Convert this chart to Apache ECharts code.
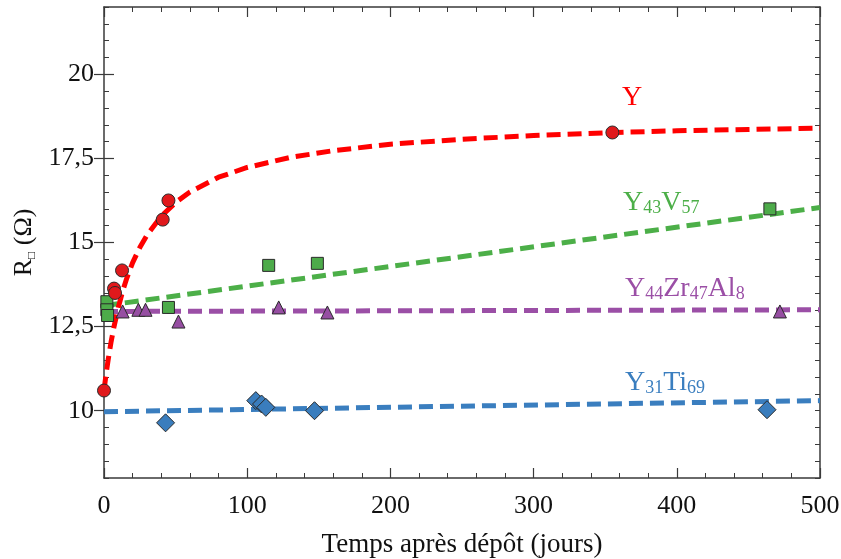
<!DOCTYPE html>
<html>
<head>
<meta charset="utf-8">
<script src="https://cdn.jsdelivr.net/npm/echarts@6/dist/echarts.min.js"></script>
<style>
html,body{margin:0;padding:0;background:#fff;}
#chart{width:841px;height:559px;}
</style>
</head>
<body>
<div id="chart"></div>
<script>
// ---- data ----
var xTicks = [0, 100, 200, 300, 400, 500];
var yTickLabels = [10, 12.5, 15, 17.5, 20];

// Y (red circles)
var yPts = [[0, 10.6], [7, 13.63], [7.7, 13.5], [12.6, 14.17], [41, 15.68], [45, 16.25], [355, 18.27]];
// Y fit curve
var yFitT = [0, 1, 2, 3, 5, 7, 10, 13, 16, 20, 25, 30, 40, 50, 60, 80, 100, 130, 160, 200, 250, 300, 350, 400, 450, 500];
var yFitV = [10.6, 10.94, 11.25, 11.54, 12.06, 12.5, 13.07, 13.55, 13.95, 14.4, 14.85, 15.22, 15.78, 16.19, 16.5, 16.94, 17.23, 17.53, 17.73, 17.92, 18.07, 18.18, 18.26, 18.32, 18.36, 18.4];

// Y43V57 (green squares)
var vPts = [[2, 13.24], [2, 13.0], [2.5, 12.83], [45, 13.07], [115, 14.32], [149, 14.38], [465, 16.0]];
var vFit = [[0, 13.12], [500, 16.04]];

// Y44Zr47Al8 (purple triangles)
var zPts = [[13, 12.95], [24, 13.0], [29, 13.0], [52, 12.65], [122, 13.07], [156, 12.92], [472, 12.95]];
var zFit = [[0, 12.95], [500, 13.0]];

// Y31Ti69 (blue diamonds)
var tPts = [[43, 9.64], [106, 10.3], [110, 10.2], [113, 10.1], [147, 10.0], [463, 10.03]];
var tFit = [[0, 9.97], [500, 10.3]];

var FONT = "'Liberation Serif', 'DejaVu Serif', serif";
var AX = '#3a3a3a';

function fmt(v) { return String(v).replace('.', ','); }

var chart = echarts.init(document.getElementById('chart'), null, {renderer: 'canvas'});

var yFit = yFitT.map(function (t, i) { return [t, yFitV[i]]; });

function dashLine(name, data, color) {
  return {
    name: name, type: 'line', data: data, showSymbol: false, symbol: 'none',
    smooth: false, z: 2, silent: true,
    lineStyle: {color: color, width: 5, type: [14, 7], cap: 'butt'}
  };
}
function pts(name, data, symbol, size, color) {
  return {
    name: name, type: 'scatter', data: data, symbol: symbol, symbolSize: size, z: 3,
    itemStyle: {color: color, borderColor: '#2a2a2a', borderWidth: 1, opacity: 1}
  };
}

function xAx(pos, show) {
  return {
    type: 'value', position: pos, min: 0, max: 500, interval: 100,
    axisLine: {show: true, onZero: false, lineStyle: {color: AX, width: 1.5}},
    axisTick: {show: true, inside: true, length: 10, lineStyle: {color: AX, width: 1.2}},
    minorTick: {show: true, splitNumber: 5, length: 5, lineStyle: {color: AX, width: 1}},
    axisLabel: {show: show, margin: 15, color: '#111', fontFamily: FONT, fontSize: 26},
    splitLine: {show: false},
    name: show ? 'Temps après dépôt (jours)' : '',
    nameLocation: 'middle', nameGap: 53,
    nameTextStyle: {color: '#111', fontFamily: FONT, fontSize: 27}
  };
}
function yMinor(pos) {
  return {
    type: 'value', position: pos, min: 8, max: 22, interval: 0.5,
    axisLine: {show: true, onZero: false, lineStyle: {color: AX, width: 1.5}},
    axisTick: {show: true, inside: true, length: 5, lineStyle: {color: AX, width: 1}},
    axisLabel: {show: false},
    splitLine: {show: false}
  };
}
function yMajor(pos, show) {
  var o = {
    type: 'value', position: pos, min: 8, max: 22,
    axisLine: {show: false},
    axisTick: {show: true, inside: true, length: 10, customValues: yTickLabels, lineStyle: {color: AX, width: 1.2}},
    axisLabel: {show: show, margin: 10, customValues: yTickLabels, color: '#111', fontFamily: FONT, fontSize: 26,
      formatter: function (v) { return fmt(v); }},
    splitLine: {show: false}
  };
  if (show) {
    o.name = '{a|R}{b|□}{a| (Ω)}';
    o.nameLocation = 'middle';
    o.nameRotate = 90;
    o.nameGap = 66;
    o.nameTextStyle = {
      color: '#111', fontFamily: FONT,
      rich: {
        a: {fontFamily: FONT, fontSize: 26, color: '#111', lineHeight: 30, verticalAlign: 'bottom'},
        b: {fontFamily: FONT, fontSize: 12, color: '#111', lineHeight: 12, verticalAlign: 'bottom'}
      }
    };
  }
  return o;
}

function richLabel(text, x, y, color) {
  return {
    type: 'text', left: x, top: y, z: 10,
    style: {
      text: text, fill: color, font: '28px ' + FONT,
      rich: {
        m: {fontFamily: FONT, fontSize: 28, fill: color, lineHeight: 34, verticalAlign: 'bottom'},
        s: {fontFamily: FONT, fontSize: 18, fill: color, lineHeight: 18, verticalAlign: 'bottom'}
      }
    }
  };
}

var option = {
  backgroundColor: '#fff',
  animation: false,
  grid: {left: 104, top: 7, right: 21, bottom: 81, containLabel: false, outerBoundsMode: 'none'},
  xAxis: [xAx('bottom', true), xAx('top', false)],
  yAxis: [yMinor('left'), yMajor('left', true), yMinor('right'), yMajor('right', false)],
  series: [
    dashLine('Y31Ti69 fit', tFit, '#3a7ebf'),
    dashLine('Y44Zr47Al8 fit', zFit, '#9b4fa6'),
    dashLine('Y43V57 fit', vFit, '#4caf48'),
    pts('Y31Ti69', tPts, 'diamond', 18, '#3a7dbd'),
    pts('Y44Zr47Al8', zPts, 'triangle', 13, '#964ea2'),
    pts('Y43V57', vPts, 'rect', 12, '#4dab4a'),
    dashLine('Y fit', yFit, '#ff0000'),
    pts('Y', yPts, 'circle', 13, '#e0191c')
  ],
  graphic: [
    richLabel('{m|Y}', 622, 84, '#ff0000'),
    richLabel('{m|Y}{s|43}{m|V}{s|57}', 623, 189, '#4caf48'),
    richLabel('{m|Y}{s|44}{m|Zr}{s|47}{m|Al}{s|8}', 625, 275, '#9b4fa6'),
    richLabel('{m|Y}{s|31}{m|Ti}{s|69}', 625, 369, '#3a7ebf')
  ]
};
chart.setOption(option);
</script>
</body>
</html>
